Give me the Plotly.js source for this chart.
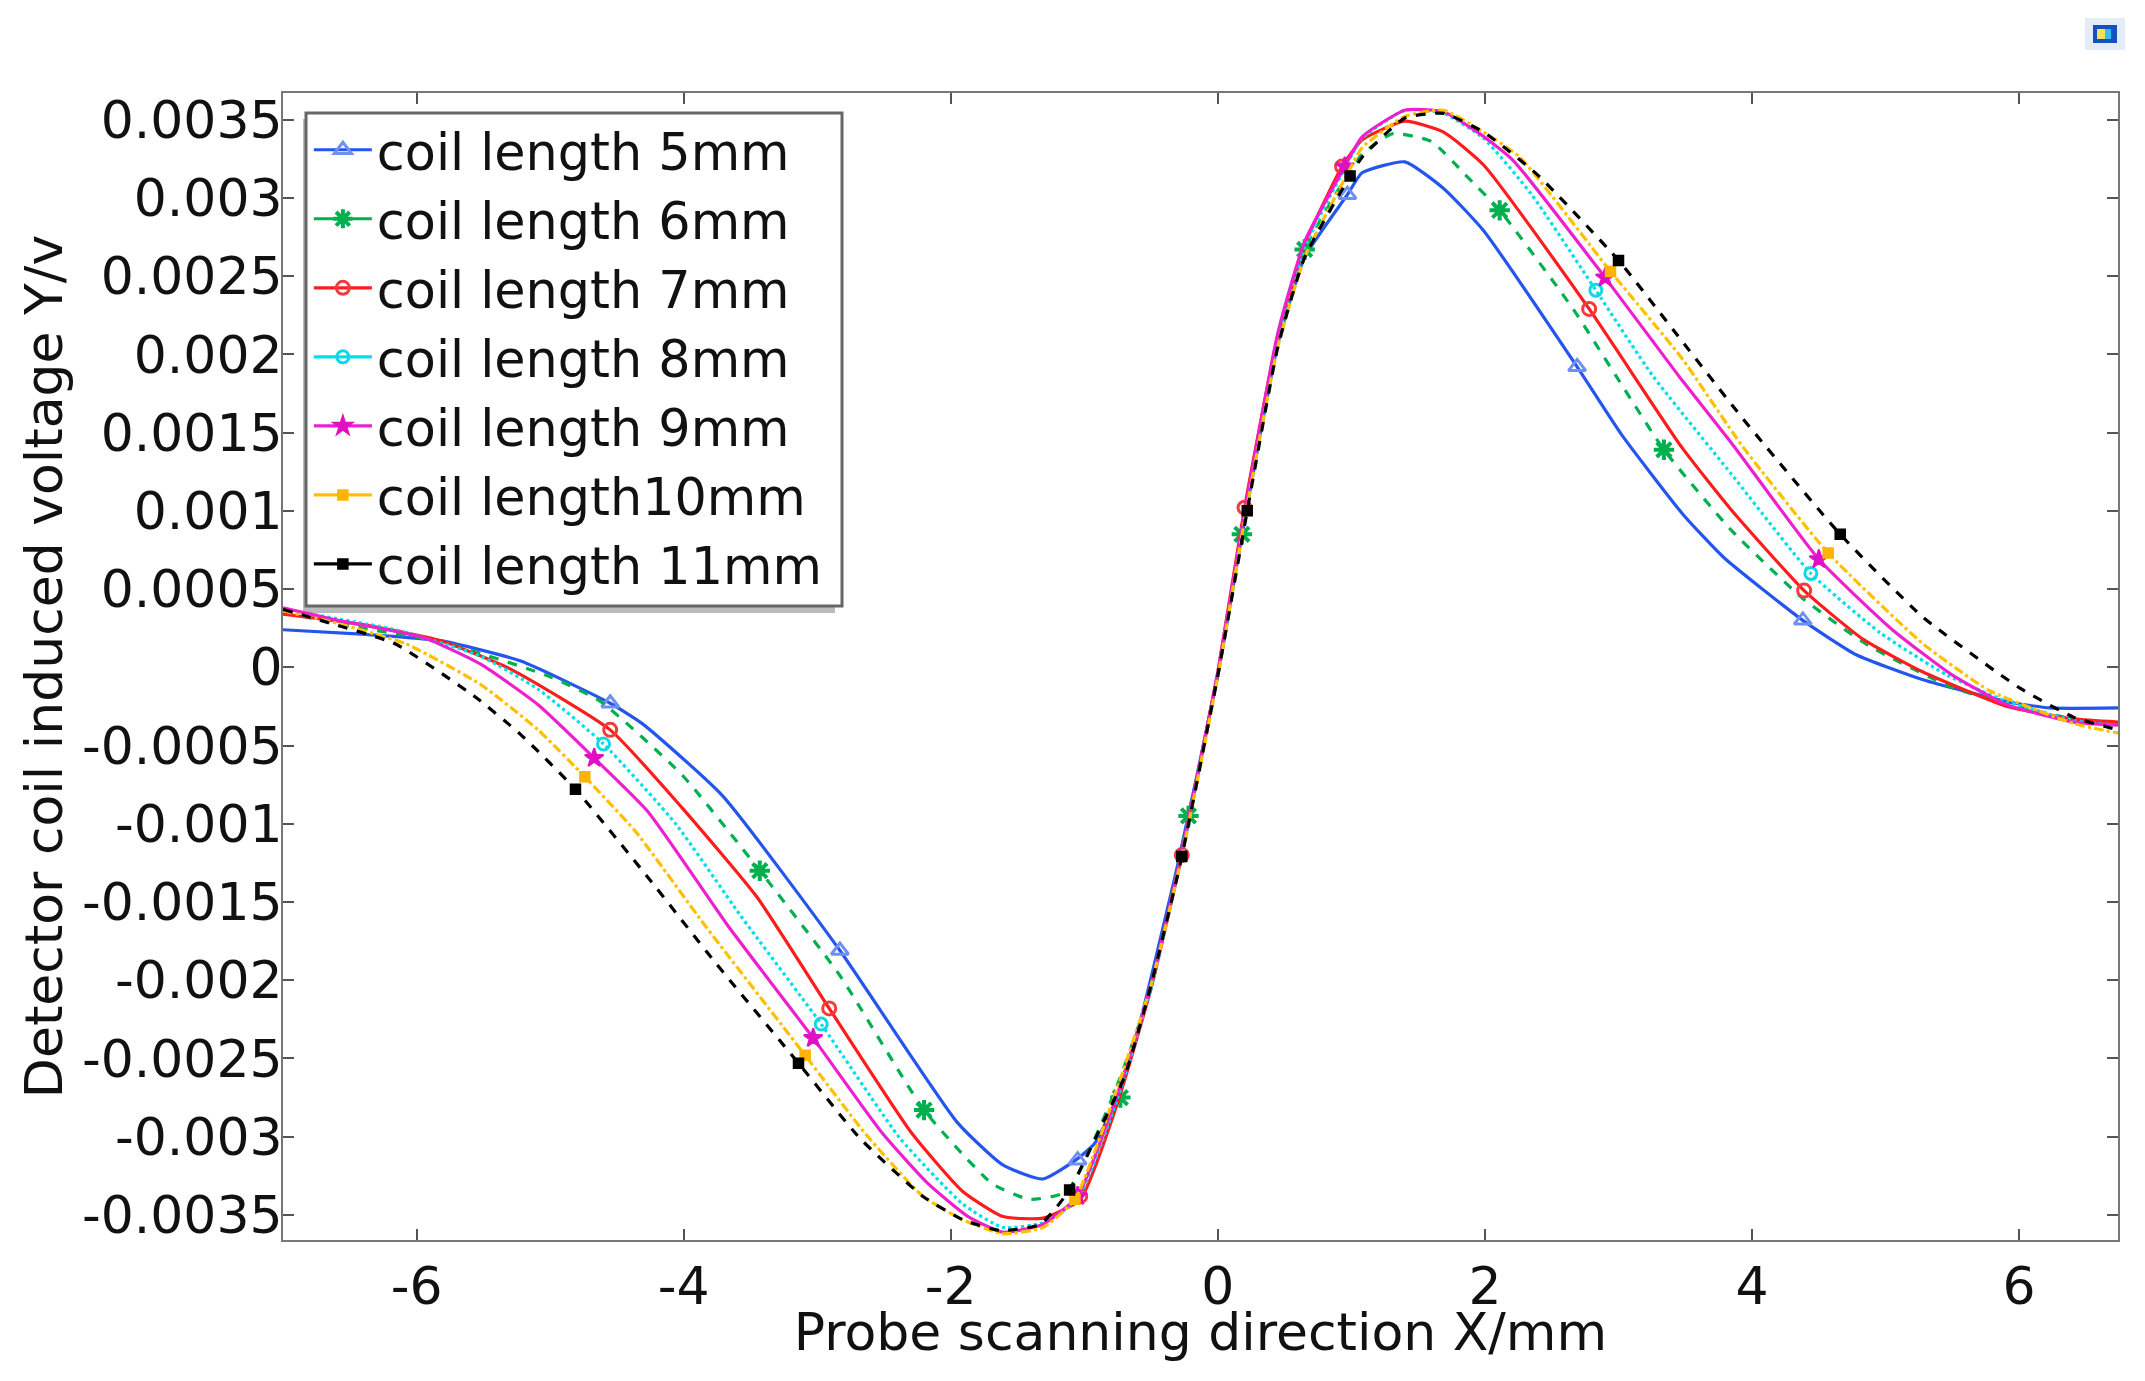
<!DOCTYPE html>
<html><head><meta charset="utf-8">
<script src="https://cdn.plot.ly/plotly-3.0.1.min.js"></script>
<style>html,body{margin:0;padding:0;background:#fff}#c{width:2145px;height:1381px}</style></head>
<body><div id="c"></div>
<script>
const names=["coil length 5mm","coil length 6mm","coil length 7mm","coil length 8mm","coil length 9mm","coil length10mm","coil length 11mm"];
const colors=["#2456ee","#00b04f","#ff1c1c","#00dfe8","#ee1fcf","#ffc000","#000000"];
const markerColors=["#6f90f2","#00b04f","#f43a3a","#10d8e6","#e010c4","#ffb400","#000000"];
const dashes=["solid","dash","solid","dot","solid","dashdot","dash"];
const symbols=["triangle-up-open","asterisk-open","circle-open","circle-open","star","square","square"];

const x5=[-7,-6.38,-5.82,-5.22,-4.55,-4.31,-3.71,-2.83,-1.95,-1.61,-1.31,-1.05,-0.92,-0.73,-0.58,-0.3,0,0.18,0.45,0.65,0.97,1.08,1.4,1.69,1.99,2.69,3.02,3.48,3.79,4.38,4.78,5.28,5.91,6.23,6.74];
const y5=[0.00024,0.00021,0.00017,0.00004,-0.00023,-0.00036,-0.00082,-0.00181,-0.00291,-0.00318,-0.00327,-0.00314,-0.00304,-0.0027,-0.00226,-0.00126,-0.00005,0.00084,0.00207,0.00262,0.00302,0.00316,0.00323,0.00306,0.00279,0.00192,0.00149,0.00098,0.0007,0.0003,0.00008,-0.00008,-0.00022,-0.00026,-0.00026];
const x6=[-7,-6.4,-5.8,-5,-4.62,-4.01,-3.43,-2.83,-2.2,-1.69,-1.41,-1.13,-0.79,-0.5,-0.22,0,0.18,0.45,0.65,0.95,1.08,1.31,1.6,1.85,2.11,2.66,3.02,3.34,3.84,4.38,4.87,5.5,5.9,6.4,6.74];
const y6=[0.00035,0.00025,0.00016,-0.00006,-0.00022,-0.00069,-0.0013,-0.00197,-0.00283,-0.0033,-0.0034,-0.00335,-0.00275,-0.00205,-0.00095,-0.00005,0.00085,0.00207,0.00267,0.00312,0.00328,0.00341,0.00336,0.00315,0.00292,0.00229,0.00181,0.00139,0.00088,0.00044,0.00014,-0.00013,-0.00023,-0.00033,-0.00036];
const x7=[-7,-6.38,-5.82,-5.3,-4.55,-4.01,-3.45,-2.91,-2.29,-1.91,-1.61,-1.31,-1.03,-0.75,-0.5,-0.27,0,0.2,0.45,0.65,0.93,1.08,1.4,1.69,1.99,2.78,3.47,3.84,4.39,4.83,5.28,5.91,6.41,6.74];
const y7=[0.00034,0.00027,0.00017,-0.00001,-0.0004,-0.0009,-0.00147,-0.00218,-0.00298,-0.00335,-0.00351,-0.00352,-0.0034,-0.00278,-0.00205,-0.0012,-0.00003,0.00102,0.00212,0.0027,0.0032,0.00337,0.00349,0.00342,0.00321,0.00229,0.00141,0.00101,0.00049,0.00018,-0.00003,-0.00025,-0.00033,-0.00035];
const x8=[-7,-6.16,-5.52,-5.09,-4.6,-4.06,-3.58,-2.97,-2.38,-1.91,-1.61,-1.31,-1.05,-0.75,-0.5,-0.27,0,0.2,0.45,0.65,0.95,1.08,1.4,1.69,1.99,2.35,2.83,3.25,3.84,4.44,4.96,5.46,5.91,6.41,6.74];
const y8=[0.00037,0.00024,0.00007,-0.00014,-0.00049,-0.001,-0.00158,-0.00228,-0.00301,-0.00343,-0.00358,-0.00355,-0.0034,-0.00275,-0.00205,-0.0012,-0.00004,0.00098,0.0021,0.00268,0.00319,0.00338,0.00356,0.00354,0.00338,0.00302,0.00241,0.00187,0.00124,0.0006,0.00022,-0.00005,-0.00022,-0.00034,-0.00037];
const x9=[-7,-6.59,-5.95,-5.52,-5.09,-4.67,-4.27,-3.67,-3.03,-2.51,-2.17,-1.87,-1.61,-1.31,-1.05,-0.75,-0.5,-0.27,0,0.2,0.45,0.65,0.95,1.08,1.4,1.69,1.96,2.21,2.9,3.47,3.84,4.5,5.05,5.5,5.91,6.41,6.74];
const y9=[0.00038,0.0003,0.00019,0.00002,-0.00024,-0.00058,-0.00092,-0.00165,-0.00237,-0.00298,-0.0033,-0.00351,-0.00361,-0.00356,-0.00338,-0.00272,-0.00203,-0.00118,-0.00003,0.00099,0.00214,0.00272,0.0032,0.00339,0.00356,0.00355,0.00341,0.00324,0.00249,0.00184,0.00144,0.00069,0.00024,-0.00005,-0.00024,-0.00035,-0.00037];
const x10=[-7,-6.59,-6.08,-5.52,-5.09,-4.74,-4.36,-3.84,-3.09,-2.64,-2.21,-1.91,-1.61,-1.31,-1.07,-0.75,-0.5,-0.27,0,0.2,0.45,0.65,0.95,1.08,1.4,1.69,1.99,2.26,2.94,3.47,3.93,4.57,5.28,5.78,6.41,6.74];
const y10=[0.00036,0.00028,0.00015,-0.00011,-0.0004,-0.0007,-0.00105,-0.00165,-0.00248,-0.00298,-0.00338,-0.00353,-0.00362,-0.00358,-0.0034,-0.00268,-0.00203,-0.00121,-0.00006,0.00094,0.00205,0.00262,0.00312,0.00332,0.00352,0.00356,0.00342,0.00326,0.00253,0.00198,0.00141,0.00073,0.00015,-0.00015,-0.00036,-0.00042];
const x11=[-7,-6.68,-6.16,-5.56,-5.22,-4.81,-4.27,-3.76,-3.14,-2.68,-2.21,-1.91,-1.63,-1.33,-1.11,-0.9,-0.7,-0.5,-0.27,0,0.22,0.45,0.65,0.99,1.08,1.4,1.69,1.99,2.39,3,3.47,3.93,4.66,5.28,6,6.41,6.74];
const y11=[0.00037,0.00029,0.00015,-0.00019,-0.00043,-0.00078,-0.00134,-0.00189,-0.00253,-0.00301,-0.00338,-0.00353,-0.0036,-0.00356,-0.00334,-0.00298,-0.00262,-0.00203,-0.00121,-0.00005,0.001,0.00205,0.00262,0.00314,0.00326,0.00351,0.00354,0.00342,0.00315,0.0026,0.00209,0.00159,0.00085,0.00032,-0.00013,-0.00032,-0.0004];

const mx=[[-4.55,-2.83,-1.05,0.97,2.69,4.38],[-3.43,-2.2,-0.73,-0.22,0.18,0.65,2.11,3.34],[-4.55,-2.91,-1.03,-0.27,0.2,0.93,2.78,4.39],[-4.6,-2.97,2.83,4.44],[-4.67,-3.03,-1.05,0.95,2.9,4.5],[-4.74,-3.09,-1.07,2.94,4.57],[-4.81,-3.14,-1.11,-0.27,0.22,0.99,3,4.66]];
const my=[[-0.00023,-0.00181,-0.00315,0.00302,0.00192,0.0003],[-0.0013,-0.00283,-0.00275,-0.00095,0.00085,0.00267,0.00292,0.00139],[-0.0004,-0.00218,-0.00338,-0.0012,0.00102,0.0032,0.00229,0.00049],[-0.00049,-0.00228,0.00241,0.0006],[-0.00058,-0.00237,-0.00338,0.0032,0.00249,0.00069],[-0.0007,-0.00248,-0.0034,0.00253,0.00073],[-0.00078,-0.00253,-0.00334,-0.00121,0.001,0.00314,0.0026,0.00085]];

const xs=[x5,x6,x7,x8,x9,x10,x11], ys=[y5,y6,y7,y8,y9,y10,y11];
const xTicks=[-6,-4,-2,0,2,4,6];
const xLabels=["-6","-4","-2","0","2","4","6"];
const yTicks=[0.0035,0.003,0.0025,0.002,0.0015,0.001,0.0005,0,-0.0005,-0.001,-0.0015,-0.002,-0.0025,-0.003,-0.0035];
const yLabels=["0.0035","0.003","0.0025","0.002","0.0015","0.001","0.0005","0","-0.0005","-0.001","-0.0015","-0.002","-0.0025","-0.003","-0.0035"];

const sizes=[15,17,13,12,14,10,10];
const widths=[3,4,3,3,2,1.5,1.5];
const data=[];
names.forEach((n,i)=>{
  data.push({x:xs[i],y:ys[i],type:"scatter",mode:"lines",showlegend:false,legendgroup:n,
    line:{color:colors[i],width:3.2,dash:dashes[i],shape:"spline",smoothing:0.5},hoverinfo:"skip"});
  const px=[],py=[];
  mx[i].forEach((v,k)=>{px.push(v,v);py.push(my[i][k],null);});
  data.push({x:px,y:py,type:"scatter",mode:"lines+markers",name:n,legendgroup:n,connectgaps:false,
    line:{color:colors[i],width:3.2,dash:"solid"},
    marker:{symbol:symbols[i],size:sizes[i],color:markerColors[i],line:{color:markerColors[i],width:widths[i]}}});
});
const font="DejaVu Sans";
const L=283,T=93,W=1835,H=1147;
const axisCommon={showgrid:false,zeroline:false,showline:true,linecolor:"#777",linewidth:2,mirror:"ticks",ticks:"inside",ticklen:11,tickwidth:2,tickcolor:"#555",tickfont:{family:font,size:52,color:"#111"},automargin:false};
const fx=v=>(v-L)/W, fy=v=>(T+H-v)/H;
const rect=(a,b,c,d,col,op,border)=>({type:"rect",xref:"paper",yref:"paper",x0:fx(a),x1:fx(b),y0:fy(d),y1:fy(c),line:border?{width:3,color:border}:{width:0},fillcolor:col,opacity:op===undefined?1:op,layer:"below"});
const layout={width:2145,height:1381,paper_bgcolor:"#fff",plot_bgcolor:"#fff",showlegend:true,
  margin:{l:L,r:2145-L-W,t:T,b:1381-T-H},
  font:{family:font,color:"#111"},
  xaxis:Object.assign({},axisCommon,{range:[-7,6.74],tickmode:"array",tickvals:xTicks,ticktext:xLabels,title:{text:"Probe scanning direction X/mm",font:{family:font,size:52,color:"#111"},standoff:0}}),
  yaxis:Object.assign({},axisCommon,{range:[-0.00366,0.00367],tickmode:"array",tickvals:yTicks,ticktext:yLabels,ticklabelstandoff:-12,title:{text:"Detector coil induced voltage Y/v",font:{family:font,size:52,color:"#111"},standoff:3}}),
  legend:{x:0.0141,y:0.985,xanchor:"left",yanchor:"top",bgcolor:"rgba(0,0,0,0)",borderwidth:0,font:{family:font,size:50.8,color:"#111"},itemwidth:58,itemsizing:"trace",tracegroupgap:0},
  shapes:[
    rect(303,835,119,613,"#bbbbbb"),
    rect(306,842,113,606,"#ffffff",1,"#666666"),
    rect(2085,2125,18,50,"#d8e4f4",0.7),
    rect(2093,2117,25,43,"#1550c0"),
    rect(2097,2105,29,39,"#f2e25a"),
    rect(2105,2111,29,39,"#38bdf0")
  ]
};
Plotly.newPlot("c",data,layout,{displayModeBar:false,staticPlot:true}).then(()=>{
  const t=document.querySelector(".xtitle");
  if(t) t.setAttribute("transform","translate(0,-14)");
});
</script></body></html>
